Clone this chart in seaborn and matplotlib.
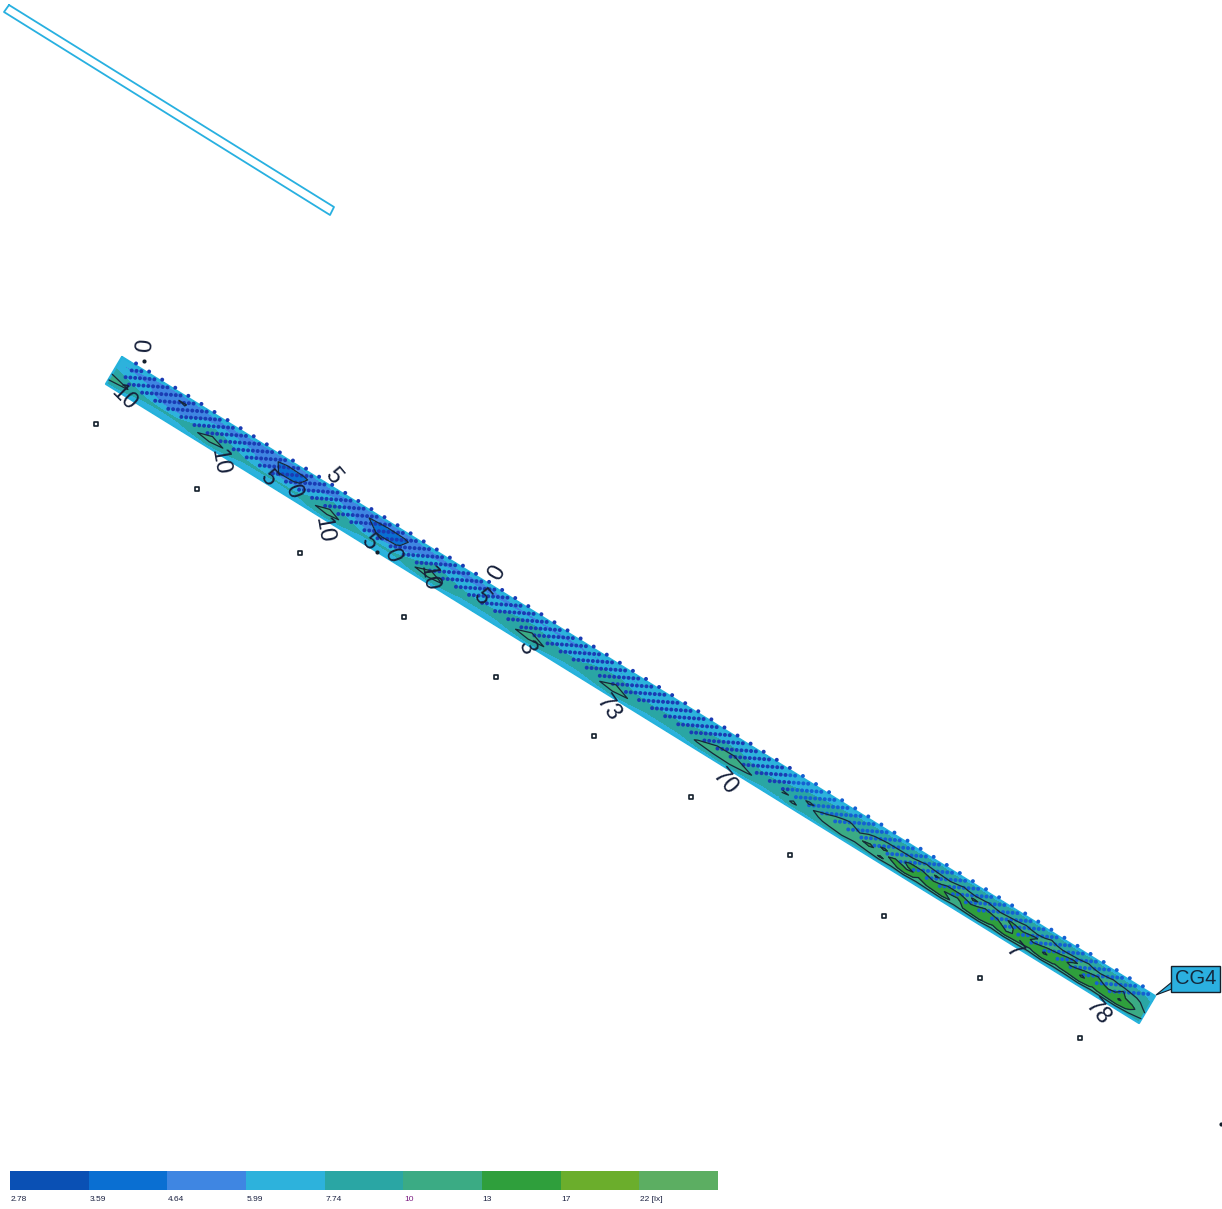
import numpy as np
import pandas as pd
import matplotlib
matplotlib.use('Agg')
import matplotlib.pyplot as plt
import seaborn as sns

# illuminance classes of the false colour scale
class_labels = ['2.78', '3.59', '4.64', '5.99', '7.74', '10', '13', '17', '22 [lx]']
class_values = [2.78, 3.59, 4.64, 5.99, 7.74, 10, 13, 17, 22]
class_colors = ['#0a50b4', '#0a6fd2', '#3f86e2', '#2db2dc', '#2aa6a4',
                '#3bab84', '#2f9f3c', '#6bae2c', '#5cae62']

# lux read along the road, one row for each line across it (top edge to bottom edge)
lux_top = [6.2, 6.3, 6.2, 6.1, 6.1, 6.2, 6.3, 6.2, 6.1, 6.0, 6.0, 6.1, 6.2, 6.2, 6.1, 6.0,
           6.0, 6.1, 6.2, 6.2, 6.3, 6.2, 6.2, 6.3, 6.3, 6.4, 6.3, 6.3, 6.3, 6.4, 6.4, 6.3,
           6.3, 6.4, 6.4, 6.4, 6.5, 6.5, 6.4, 6.4, 6.4]
lux_upper = [6.0, 5.8, 5.5, 4.7, 4.6, 5.4, 5.6, 5.6, 5.4, 5.0, 4.3, 4.4, 5.3, 5.6, 5.2, 4.6,
             4.3, 4.4, 5.3, 5.6, 5.7, 5.7, 5.6, 5.7, 5.8, 5.8, 5.8, 5.8, 5.9, 5.9, 5.9, 5.9,
             6.0, 6.0, 6.0, 6.1, 6.1, 6.2, 6.2, 6.3, 6.5]
lux_middle = [8.8, 7.1, 6.6, 4.9, 4.8, 6.6, 8.8, 7.3, 6.7, 5.2, 4.5, 4.7, 6.5, 8.8, 6.6, 5.0,
              4.4, 4.7, 6.6, 9.2, 7.5, 7.4, 7.3, 7.5, 8.6, 9.2, 7.6, 7.4, 7.5, 8.6, 9.3, 7.6,
              7.5, 7.6, 7.6, 8.6, 9.6, 9.6, 7.8, 7.6, 7.9]
lux_lower = [11.4, 10.2, 8.1, 7.9, 8.0, 9.6, 11.2, 9.6, 8.0, 7.9, 7.8, 7.9, 9.6, 11.1, 9.4, 8.0,
             7.9, 8.0, 9.7, 11.2, 9.7, 8.2, 8.1, 8.2, 9.7, 11.3, 9.8, 8.3, 8.3, 9.7, 11.2, 9.8,
             8.4, 8.4, 8.5, 10.3, 11.4, 11.8, 10.4, 8.8, 9.3]
lux_bottom = [6.4, 6.3, 6.2, 6.1, 6.1, 6.2, 6.4, 6.2, 6.1, 6.0, 6.0, 6.1, 6.2, 6.4, 6.2, 6.1,
              6.0, 6.1, 6.2, 6.4, 6.2, 6.2, 6.1, 6.2, 6.2, 6.4, 6.2, 6.2, 6.2, 6.2, 6.4, 6.3,
              6.2, 6.2, 6.3, 6.3, 6.3, 6.5, 6.4, 6.3, 6.4]
across_near = [0.0, 0.22, 0.5, 0.78, 1.0]

# the brighter far end of the road, read on a closer grid
far_0 = [6.4, 6.4, 6.5, 6.5, 6.6, 6.6, 6.7, 6.7, 6.8, 6.8, 6.8, 6.9, 6.9, 6.8, 6.9,
         7.0, 6.9, 6.9, 7.0, 6.9, 6.8, 6.9, 7.0, 6.9, 6.8, 6.8, 6.7, 6.7, 6.6, 6.3]
far_1 = [6.8, 7.0, 7.2, 7.3, 7.4, 7.6, 7.7, 7.8, 7.9, 8.2, 8.1, 8.3, 8.6, 8.2, 8.4,
         8.7, 8.3, 8.5, 8.9, 8.4, 8.6, 9.2, 8.5, 8.3, 8.8, 8.4, 8.2, 8.0, 7.8, 7.2]
far_2 = [7.2, 7.5, 7.7, 7.9, 8.0, 8.2, 8.4, 8.8, 9.2, 9.6, 9.1, 10.3, 9.4, 9.0, 10.4,
         9.3, 10.2, 9.2, 9.6, 10.5, 9.3, 10.6, 9.4, 9.8, 10.5, 9.2, 10.3, 9.5, 8.9, 7.8]
far_3 = [7.6, 8.0, 8.2, 8.6, 9.4, 10.3, 9.2, 10.6, 11.4, 10.8, 12.0, 11.2, 13.3, 12.0, 11.1,
         13.4, 12.2, 11.5, 13.5, 12.0, 13.2, 11.6, 12.4, 13.6, 11.7, 12.8, 11.5, 13.1, 10.8, 8.6]
far_4 = [8.4, 9.0, 10.4, 9.3, 10.6, 11.2, 10.2, 12.0, 13.4, 11.8, 13.6, 14.2, 12.1, 13.7, 14.4,
         12.2, 14.0, 13.1, 12.2, 14.5, 12.4, 13.8, 14.6, 12.2, 13.9, 14.5, 12.3, 13.6, 11.9, 9.4]
far_5 = [10.5, 9.5, 9.2, 10.8, 11.6, 10.4, 12.6, 13.5, 11.9, 14.0, 12.6, 13.4, 15.0, 13.0, 12.4,
         14.8, 13.2, 15.1, 12.5, 13.6, 15.0, 12.7, 14.0, 15.2, 12.6, 14.3, 15.0, 12.8, 14.0, 10.5]
far_6 = [8.6, 10.4, 9.1, 9.6, 10.6, 11.8, 10.4, 11.6, 13.3, 12.2, 14.2, 12.4, 13.2, 14.4, 12.1,
         13.5, 14.5, 12.3, 14.2, 13.1, 12.4, 14.6, 12.8, 13.3, 14.8, 12.6, 13.6, 14.4, 12.4, 10.2]
far_7 = [6.4, 6.4, 6.5, 6.5, 6.6, 6.6, 6.7, 6.8, 6.7, 6.8, 6.7, 6.7, 6.8, 6.7, 6.8,
         6.7, 6.8, 6.7, 6.8, 6.7, 6.8, 6.7, 6.8, 6.7, 6.8, 6.7, 6.8, 6.7, 6.7, 6.5]
across_far = [0.0, 0.14, 0.28, 0.42, 0.56, 0.70, 0.84, 1.0]
near_end = 0.65

# mast positions, other small points and the rotated labels
mast_x = [96, 197, 300, 404, 496, 594, 691, 790, 884, 980, 1080]
mast_y = [424, 489, 553, 617, 677, 736, 797, 855, 916, 978, 1038]
spot_x = [144, 377, 1221]
spot_y = [361, 552, 1124]
label_text = ['0', '10', '10', '5', '0', '5', '10', '5', '0', '10', '0', '5', '3', '73', '70', '7', '78']
label_x = [139, 124, 219, 333, 293, 268, 323, 369, 392, 428, 491, 481, 526, 608, 725, 1014, 1098]
label_y = [345, 398, 462, 476, 491, 478, 530, 542, 555, 578, 570, 597, 647, 708, 782, 951, 1012]
label_rot = [-95, -45, -80, -50, -70, -50, -80, -50, -70, -80, -120, -50, -70, -55, -50, -50, -50]

sns.set_theme(style='white')
plt.rcParams['font.family'] = ['Liberation Sans', 'DejaVu Sans']

fig = plt.figure(figsize=(12.22, 12.09), dpi=100)
ax = fig.add_axes([0, 0, 1, 1])

# road strip, corners and directions in picture pixels
origin = np.array([122.0, 357.0])
along = np.array([1033.0, 639.0])
across = np.array([-16.0, 27.0])


def road_xy(u, v):
    return origin[0] + u * along[0] + v * across[0], origin[1] + u * along[1] + v * across[1]


levels = class_values + [40]
lux_near = np.array([lux_top, lux_upper, lux_middle, lux_lower, lux_bottom])
lux_far = np.array([far_0, far_1, far_2, far_3, far_4, far_5, far_6, far_7])
near_x, near_y = road_xy(*np.meshgrid(np.linspace(0, near_end, lux_near.shape[1]), across_near))
far_x, far_y = road_xy(*np.meshgrid(np.linspace(near_end, 1, lux_far.shape[1]), across_far))

ax.contourf(near_x, near_y, lux_near, levels=levels, colors=class_colors, zorder=1)
ax.contourf(far_x, far_y, lux_far, levels=levels, colors=class_colors, zorder=1)
outline = np.array([origin, origin + along, origin + along + across, origin + across, origin])
ax.plot(outline[:, 0], outline[:, 1], color='#25b2dc', lw=1.6, zorder=2)

# calculation points, short rows leaning off the top edge
solve = np.linalg.inv(np.column_stack([along, across]))
rows = []
for i in range(80):
    end = origin + along * i / 79 + across * -0.06
    for j in range(10):
        p = end - np.array([4.8, 0.35]) * j - (np.array([3.0, 0]) if j else 0)
        s, t = solve @ (p - origin)
        if 0.01 < s < 0.995 and t < 0.8:
            rows.append({'x': p[0], 'y': p[1], 'part': 'far' if p[0] > 790 else 'near'})
points = pd.DataFrame(rows)
sns.scatterplot(data=points, x='x', y='y', hue='part', palette={'near': '#1a3cb4', 'far': '#1560d2'},
                s=8, linewidth=0, legend=False, ax=ax, zorder=3)

ax.contour(near_x, near_y, lux_near, levels=[4.64, 10], colors='#16283a', linewidths=0.9, zorder=4)
ax.contour(far_x, far_y, lux_far, levels=[10, 13], colors='#16283a', linewidths=0.9, zorder=4)

sns.scatterplot(x=mast_x, y=mast_y, marker='s', s=9, facecolor='white', edgecolor='#14202c',
                linewidth=1.2, ax=ax, zorder=5)
sns.scatterplot(x=spot_x, y=spot_y, marker='o', s=9, color='#14202c', linewidth=0, ax=ax, zorder=5)

for txt, x, y, rot in zip(label_text, label_x, label_y, label_rot):
    ax.text(x, y, txt, rotation=rot, ha='center', va='center', fontsize=17, color='#16203a',
            rotation_mode='anchor', zorder=6)

# object outline at the top left
object_x = [9, 334, 330, 4, 9]
object_y = [5, 207, 215, 12, 5]
ax.plot(object_x, object_y, color='#28b0e0', lw=1.3, zorder=2)

# callout of the calculation surface
ax.fill([1156, 1172, 1172], [995, 982, 989], color='#2bb0e0', ec='#14202c', lw=0.8, zorder=6)
ax.text(1195.5, 979, 'CG4', fontsize=14.5, ha='center', va='center', color='#14283c', zorder=7,
        bbox=dict(boxstyle='square,pad=0.17', fc='#2bb0e0', ec='#14202c', lw=1))

ax.set_xlim(0, 1222)
ax.set_ylim(1209, 0)
ax.set_axis_off()

# colour scale below the drawing
bar = fig.add_axes([10 / 1222, 1 - 1190 / 1209, 708 / 1222, 19 / 1209])
scale = pd.DataFrame([class_values])
sns.heatmap(np.log(scale), cmap=class_colors, cbar=False, xticklabels=False, yticklabels=False, ax=bar)
for n, name in enumerate(class_labels):
    bar.text(n + 0.01, 1.5, name, fontsize=6, ha='left', va='center', clip_on=False,
             color='#7a1a80' if name == '10' else '#1a2040')

fig.savefig('out.png', dpi=100)
